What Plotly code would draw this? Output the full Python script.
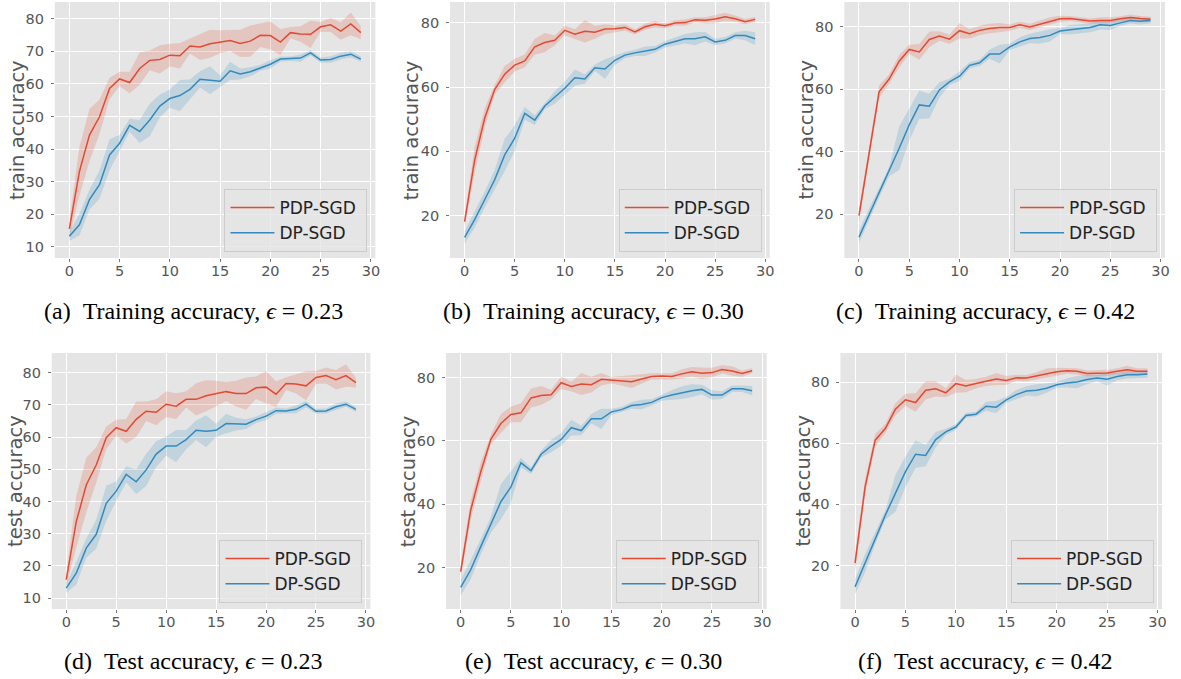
import plotly.graph_objects as go

epochs = list(range(30))

# ---- (a) train, eps = 0.23
pdp_mean_a = [15.5, 33.1, 44.3, 49.9, 58.6, 61.5, 60.4, 64.7, 67.2, 67.5, 68.8, 68.6, 71.6, 71.3, 72.3,
              72.9, 73.3, 72.4, 73.1, 74.9, 74.8, 72.8, 75.7, 75.3, 75.2, 77.5, 78.1, 76.2, 78.4, 75.7]
pdp_std_a = [2.5, 7.5, 8.0, 5.3, 3.3, 2.2, 3.3, 5.0, 3.0, 4.3, 3.5, 3.9, 2.3, 4.0, 4.3,
             3.5, 3.2, 4.2, 4.8, 3.6, 4.3, 4.0, 1.7, 2.4, 4.2, 1.5, 2.2, 2.7, 3.5, 2.0]
dp_mean_a = [13.3, 16.8, 24.5, 29.1, 38.2, 41.8, 47.3, 45.4, 48.9, 53.2, 55.5, 56.4, 58.3, 61.4, 61.1,
             60.8, 64.0, 63.0, 63.7, 64.9, 66.0, 67.6, 67.7, 67.9, 69.5, 67.3, 67.5, 68.5, 69.1, 67.6]
dp_std_a = [1.5, 3.3, 3.0, 4.3, 4.8, 2.5, 2.0, 3.5, 5.0, 3.5, 2.8, 4.8, 3.0, 2.5, 4.3,
            1.8, 2.8, 1.7, 1.4, 0.9, 1.3, 0.8, 0.7, 1.1, 0.8, 0.8, 1.0, 1.0, 1.0, 0.8]

# ---- (b) train, eps = 0.30
pdp_mean_b = [18.2, 37.3, 50.3, 59.2, 64.0, 66.8, 68.1, 72.5, 73.8, 74.5, 77.6, 76.4, 77.3, 77.0, 78.0,
              78.1, 78.5, 77.1, 78.7, 79.5, 79.0, 79.9, 80.0, 80.9, 80.7, 81.1, 81.8, 81.2, 80.3, 81.0]
pdp_std_b = [1.5, 4.0, 3.0, 1.5, 2.5, 2.0, 2.0, 2.5, 3.0, 1.5, 1.5, 1.5, 3.5, 2.0, 1.5,
             1.0, 1.0, 0.8, 1.0, 1.0, 0.8, 0.8, 1.0, 0.8, 1.0, 1.3, 1.3, 1.0, 0.8, 0.8]
dp_mean_b = [13.3, 18.8, 25.0, 31.2, 38.9, 44.1, 51.8, 49.7, 54.1, 56.8, 59.6, 62.9, 62.5, 66.0, 65.6,
             68.3, 69.9, 70.6, 71.1, 71.7, 73.3, 74.2, 75.0, 75.0, 75.6, 74.0, 74.5, 76.0, 76.0, 75.0]
dp_std_b = [2.0, 2.5, 2.5, 3.0, 5.0, 4.0, 2.0, 1.5, 1.0, 2.0, 2.0, 2.5, 1.5, 1.0, 3.0,
            1.5, 1.0, 1.0, 1.5, 1.0, 1.0, 1.2, 1.5, 2.0, 1.5, 1.0, 1.0, 1.0, 1.5, 2.0]

# ---- (c) train, eps = 0.42
pdp_mean_c = [19.5, 39.0, 59.2, 63.3, 69.0, 72.8, 72.0, 76.0, 77.1, 76.1, 78.8, 77.8, 78.9, 79.5, 79.8,
              79.8, 80.7, 80.0, 80.9, 81.9, 82.6, 82.7, 82.3, 81.9, 82.1, 82.1, 82.6, 83.0, 82.7, 82.5]
pdp_std_c = [2.0, 2.0, 2.0, 1.5, 2.0, 1.5, 2.5, 2.5, 1.5, 1.5, 2.5, 1.5, 1.5, 1.5, 1.5,
             1.0, 1.0, 1.0, 1.2, 1.2, 1.0, 0.8, 0.8, 0.8, 1.0, 1.0, 0.8, 1.0, 0.8, 0.8]
dp_mean_c = [12.6, 19.8, 26.8, 33.6, 41.1, 48.6, 55.0, 54.6, 59.8, 62.4, 64.2, 67.7, 68.5, 71.3, 71.3,
             73.6, 75.2, 76.3, 76.6, 77.3, 78.7, 79.1, 79.4, 79.8, 80.7, 80.5, 81.3, 82.1, 81.8, 82.1]
dp_std_c = [2.0, 2.0, 1.5, 1.5, 7.0, 5.0, 4.5, 4.0, 2.5, 1.0, 1.5, 1.0, 1.0, 1.5, 3.0,
            1.0, 1.5, 1.5, 2.0, 2.0, 1.0, 1.5, 1.5, 1.5, 1.5, 1.5, 1.0, 1.0, 1.0, 1.0]

# ---- (d) test, eps = 0.23
pdp_mean_d = [15.7, 33.7, 45.1, 51.3, 59.8, 62.9, 61.8, 65.5, 68.0, 67.7, 70.2, 69.6, 71.7, 71.7, 72.8,
              73.5, 74.1, 73.5, 73.5, 75.3, 75.5, 73.3, 76.6, 76.5, 75.9, 78.5, 79.1, 77.8, 79.1, 76.9]
pdp_std_d = [2.0, 8.0, 8.5, 5.5, 3.5, 2.5, 3.8, 5.5, 3.0, 4.0, 4.0, 4.0, 2.5, 5.0, 4.8,
             4.0, 3.0, 4.0, 5.0, 3.5, 5.0, 4.0, 2.0, 3.0, 4.5, 2.0, 2.5, 3.0, 3.5, 1.5]
dp_mean_d = [13.1, 17.7, 25.5, 29.8, 39.4, 43.2, 48.4, 46.1, 49.8, 54.7, 57.2, 57.2, 59.2, 62.1, 61.8,
             62.1, 64.2, 64.0, 64.0, 65.4, 66.5, 68.2, 68.1, 68.6, 70.2, 68.0, 68.1, 69.4, 70.2, 68.6]
dp_std_d = [1.5, 3.5, 3.0, 4.5, 5.5, 3.0, 2.5, 3.8, 5.0, 4.0, 3.0, 5.0, 3.0, 3.0, 5.0,
            2.0, 3.0, 2.0, 1.5, 1.0, 1.3, 1.0, 0.8, 1.2, 1.0, 0.8, 0.8, 1.0, 0.8, 0.8]

# ---- (e) test, eps = 0.30
pdp_mean_e = [18.7, 38.2, 50.3, 60.5, 65.5, 68.4, 68.9, 73.6, 74.4, 74.6, 78.4, 77.2, 78.0, 77.8, 79.5,
              79.2, 79.0, 78.7, 79.6, 80.4, 80.5, 80.4, 81.2, 81.9, 81.4, 81.6, 82.6, 82.1, 81.3, 82.2]
pdp_std_e = [2.0, 3.0, 3.0, 1.5, 3.0, 2.5, 3.0, 3.0, 3.0, 1.5, 2.0, 1.5, 3.5, 2.5, 2.0,
             1.0, 1.5, 2.0, 1.5, 1.0, 1.0, 1.0, 1.5, 1.5, 1.8, 1.5, 1.3, 1.5, 1.0, 0.8]
dp_mean_e = [13.7, 19.3, 26.6, 33.5, 40.8, 45.5, 53.1, 50.6, 55.8, 58.4, 60.5, 64.2, 63.3, 67.0, 67.0,
             69.2, 69.9, 71.2, 71.5, 72.2, 73.7, 74.5, 75.3, 75.9, 76.3, 74.5, 74.5, 76.5, 76.5, 75.9]
dp_std_e = [2.5, 3.0, 2.5, 2.5, 5.5, 5.0, 1.5, 1.0, 1.0, 2.0, 2.0, 2.5, 1.5, 1.5, 3.2,
            1.0, 0.8, 1.0, 1.5, 1.0, 1.0, 1.5, 2.0, 2.0, 1.5, 1.5, 1.2, 1.0, 1.0, 1.5]

# ---- (f) test, eps = 0.42
pdp_mean_f = [20.8, 45.8, 61.0, 64.8, 71.1, 74.2, 73.3, 77.3, 77.8, 76.5, 79.5, 78.7, 79.5, 80.2, 81.0,
              80.5, 81.4, 81.3, 82.0, 82.9, 83.4, 83.7, 83.5, 82.8, 83.0, 83.0, 83.5, 84.0, 83.5, 83.5]
pdp_std_f = [3.0, 2.5, 2.0, 1.5, 2.0, 2.0, 3.0, 3.0, 2.5, 1.5, 3.0, 2.0, 1.5, 1.5, 2.0,
             1.5, 1.0, 1.0, 1.2, 1.5, 1.3, 1.0, 1.0, 1.0, 1.0, 1.0, 1.0, 1.3, 1.0, 1.0]
dp_mean_f = [13.1, 20.8, 29.0, 36.5, 43.6, 50.7, 56.4, 56.0, 61.2, 63.7, 65.3, 69.1, 69.5, 72.1, 71.8,
             74.2, 75.9, 77.1, 77.3, 78.0, 79.1, 79.7, 80.0, 80.8, 81.3, 80.9, 81.8, 82.4, 82.4, 82.6]
dp_std_f = [2.5, 3.0, 2.0, 1.5, 6.0, 5.0, 4.5, 3.5, 2.5, 1.0, 1.0, 0.8, 0.8, 1.5, 2.0,
            1.0, 1.5, 1.5, 2.0, 1.5, 1.0, 1.5, 2.0, 1.5, 1.0, 2.0, 1.2, 1.2, 1.2, 1.2]

series_names = ["PDP-SGD", "DP-SGD"]
y_labels = ["train accuracy", "train accuracy", "train accuracy",
            "test accuracy", "test accuracy", "test accuracy"]
NB = "\u00a0"
captions = [f"(a){NB}{NB}Training accuracy, <i>ϵ</i>{NB}={NB}0.23",
            f"(b){NB}{NB}Training accuracy, <i>ϵ</i>{NB}={NB}0.30",
            f"(c){NB}{NB}Training accuracy, <i>ϵ</i>{NB}={NB}0.42",
            f"(d){NB}{NB}Test accuracy, <i>ϵ</i>{NB}={NB}0.23",
            f"(e){NB}{NB}Test accuracy, <i>ϵ</i>{NB}={NB}0.30",
            f"(f){NB}{NB}Test accuracy, <i>ϵ</i>{NB}={NB}0.42"]
x_ticks = [0, 5, 10, 15, 20, 25, 30]
y_ticks = [[10, 20, 30, 40, 50, 60, 70, 80], [20, 40, 60, 80], [20, 40, 60, 80],
           [10, 20, 30, 40, 50, 60, 70, 80], [20, 40, 60, 80], [20, 40, 60, 80]]

panels = [
    (pdp_mean_a, pdp_std_a, dp_mean_a, dp_std_a),
    (pdp_mean_b, pdp_std_b, dp_mean_b, dp_std_b),
    (pdp_mean_c, pdp_std_c, dp_mean_c, dp_std_c),
    (pdp_mean_d, pdp_std_d, dp_mean_d, dp_std_d),
    (pdp_mean_e, pdp_std_e, dp_mean_e, dp_std_e),
    (pdp_mean_f, pdp_std_f, dp_mean_f, dp_std_f),
]

# ---- layout geometry (pixels)
W, H = 1181, 679
boxes = [(55, 377, 2, 258), (452, 773, 2, 258), (848, 1170, 2, 258),
         (52, 372, 353, 609), (448, 770, 353, 609), (844, 1167, 353, 609)]
y_ranges = [[6.6, 85.1], [6.9, 86.4], [5.9, 88.0], [6.6, 86.1], [6.9, 87.8], [5.8, 89.5]]
ylabel_x = [17, 413, 809, 15, 410, 806]
caption_pos = [(194, 311), (596, 311), (990, 311), (194, 661), (596, 661), (990, 661)]


def fx(px):
    return px / W


def fy(py):
    return 1 - py / H


RED = "#E24A33"
BLUE = "#348ABD"
FILLS = ["rgba(226,74,51,0.2)", "rgba(52,138,189,0.2)"]
COLORS = [RED, BLUE]

fig = go.Figure()
layout = dict(width=W, height=H, margin=dict(l=0, r=0, t=0, b=0),
              paper_bgcolor="white", plot_bgcolor="#E5E5E5", annotations=[])

for i, (pm, ps, dm, ds) in enumerate(panels):
    k = "" if i == 0 else str(i + 1)
    xa, ya = "x" + k, "y" + k
    leg = "legend" + k
    for j, (m, s) in enumerate([(pm, ps), (dm, ds)]):
        upper = [a + b for a, b in zip(m, s)]
        lower = [a - b for a, b in zip(m, s)]
        fig.add_trace(go.Scatter(x=epochs + epochs[::-1], y=upper + lower[::-1],
                                 fill="toself", fillcolor=FILLS[j], line=dict(width=0),
                                 mode="lines", showlegend=False, hoverinfo="skip",
                                 xaxis=xa, yaxis=ya))
    for j, m in enumerate([pm, dm]):
        fig.add_trace(go.Scatter(x=epochs, y=m, mode="lines", name=series_names[j] + NB,
                                 line=dict(color=COLORS[j], width=1.5),
                                 xaxis=xa, yaxis=ya, legend=leg))
    x0, x1, y0, y1 = boxes[i]
    axis_common = dict(showgrid=True, gridcolor="white", gridwidth=1, zeroline=False,
                       showline=False, ticks="outside", ticklen=3, tickcolor="#777777",
                       tickfont=dict(family="DejaVu Sans", size=14.5, color="#555555"))
    layout["xaxis" + k] = dict(domain=[fx(x0), fx(x1)], range=[-1.45, 30.45],
                               tickvals=x_ticks, anchor=ya, ticklabelstandoff=-3,
                               **axis_common)
    layout["yaxis" + k] = dict(domain=[fy(y1), fy(y0)], range=y_ranges[i],
                               tickvals=y_ticks[i], anchor=xa, ticklabelstandoff=4,
                               **axis_common)
    layout[leg] = dict(x=fx(x1 - 8), y=fy(y1 - 6), xanchor="right", yanchor="bottom",
                       xref="paper", yref="paper",
                       bgcolor="rgba(229,229,229,0.8)", bordercolor="#cccccc", borderwidth=1,
                       font=dict(family="DejaVu Sans", size=17, color="#222222"),
                       tracegroupgap=0, itemwidth=44)
    layout["annotations"].append(dict(text=y_labels[i], x=fx(ylabel_x[i]),
                                      y=fy((y0 + y1) / 2), xref="paper", yref="paper",
                                      showarrow=False, textangle=-90, xanchor="center",
                                      yanchor="middle",
                                      font=dict(family="DejaVu Sans", size=19.5, color="#555555")))
    cx, cy = caption_pos[i]
    layout["annotations"].append(dict(text=captions[i], x=fx(cx), y=fy(cy),
                                      xref="paper", yref="paper", showarrow=False,
                                      xanchor="center", yanchor="middle",
                                      font=dict(family="Liberation Serif", size=24, color="black")))

fig.update_layout(**layout)
# remove the browser's default 8px page margin so the figure fills the window exactly
fig.write_html("out.html", config={"displayModeBar": False},
               post_script="document.body.style.margin='0';")
